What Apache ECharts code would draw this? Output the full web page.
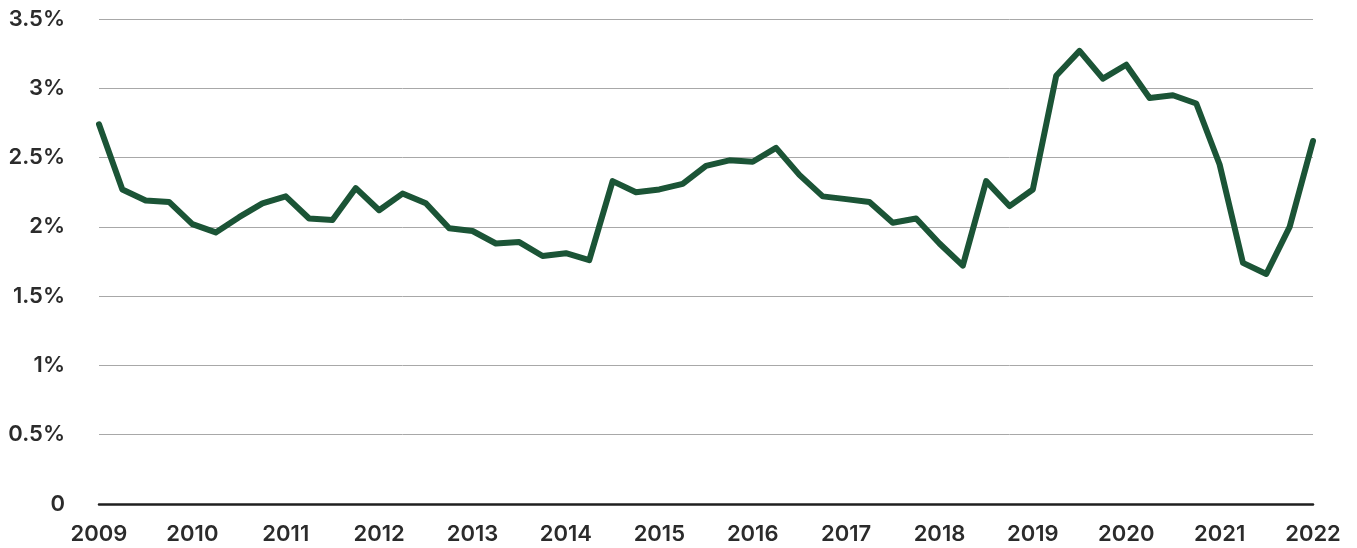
<!DOCTYPE html>
<html>
<head>
<meta charset="utf-8">
<script src="https://cdn.jsdelivr.net/npm/echarts@6/dist/echarts.min.js"></script>
<style>
html,body{margin:0;padding:0;background:#fff;}
#chart{width:1357px;height:548px;}
</style>
</head>
<body>
<div id="chart"></div>
<script>
const years = [2009,2010,2011,2012,2013,2014,2015,2016,2017,2018,2019,2020,2021,2022];
const quarterNames = ['Q1','Q2','Q3','Q4'];
const categories = [];
years.forEach(y => quarterNames.forEach(q => categories.push(y + ' ' + q)));
categories.length = 53;

const rateValues = [
  2.74, 2.27, 2.19, 2.18, 2.02, 1.96, 2.07, 2.17, 2.22, 2.06,
  2.05, 2.28, 2.12, 2.24, 2.17, 1.99, 1.97, 1.88, 1.89, 1.79,
  1.81, 1.76, 2.33, 2.25, 2.27, 2.31, 2.44, 2.48, 2.47, 2.57,
  2.375, 2.22, 2.20, 2.18, 2.03, 2.06, 1.88, 1.72, 2.33, 2.15,
  2.27, 3.09, 3.27, 3.07, 3.17, 2.93, 2.95, 2.89, 2.45, 1.74,
  1.66, 2.00, 2.62
];

const yTicks = [0, 0.5, 1, 1.5, 2, 2.5, 3, 3.5];

const chart = echarts.init(document.getElementById('chart'), null, {renderer: 'canvas'});
chart.setOption({
  animation: false,
  backgroundColor: '#ffffff',
  grid: {left: 99, right: 44, top: 19, bottom: 44, containLabel: false},
  xAxis: {
    type: 'category',
    data: categories,
    boundaryGap: false,
    axisLine: {show: true, lineStyle: {color: '#1f1f1f', width: 2.5}},
    axisTick: {show: false},
    splitLine: {show: false},
    axisLabel: {
      interval: 3,
      margin: 19,
      fontFamily: 'Inter',
      fontSize: 22,
      fontWeight: 600,
      color: '#2b2b2b',
      formatter: v => v.slice(0, 4)
    }
  },
  yAxis: {
    type: 'value',
    min: yTicks[0],
    max: yTicks[yTicks.length - 1],
    interval: 0.5,
    axisLine: {show: false},
    axisTick: {show: false},
    splitLine: {show: true, lineStyle: {color: '#a8a8a8', width: 1}},
    axisLabel: {
      margin: 34,
      fontFamily: 'Inter',
      fontSize: 22,
      fontWeight: 600,
      color: '#2b2b2b',
      formatter: v => v === 0 ? '0' : v + '%'
    }
  },
  series: [{
    type: 'line',
    data: rateValues,
    symbol: 'none',
    lineStyle: {color: '#1b5436', width: 6, cap: 'round', join: 'round'},
    z: 3
  }]
});
</script>
</body>
</html>
